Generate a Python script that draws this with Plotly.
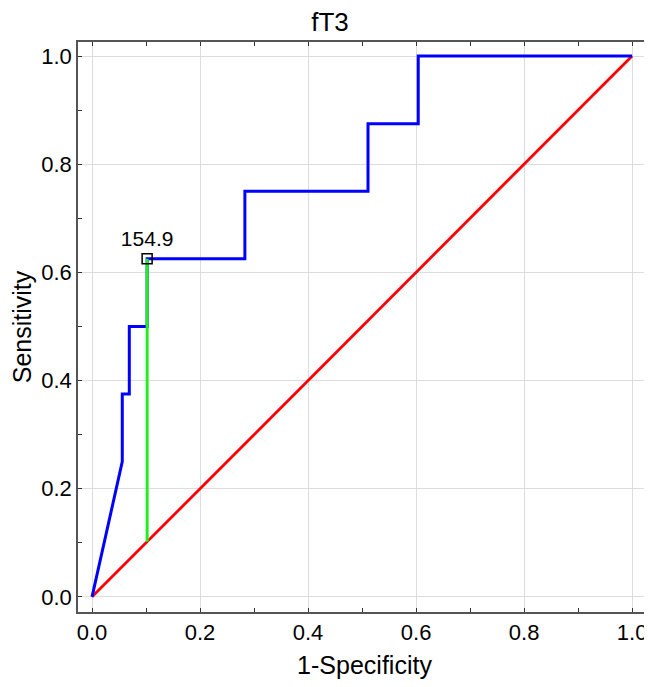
import plotly.graph_objects as go

# ROC curve for fT3
fpr = [0.0, 0.056, 0.056, 0.069, 0.069, 0.102, 0.102, 0.283, 0.283, 0.511, 0.511, 0.604, 0.604, 1.0]
tpr = [0.0, 0.25, 0.375, 0.375, 0.5, 0.5, 0.625, 0.625, 0.75, 0.75, 0.875, 0.875, 1.0, 1.0]

ref_x = [0.0, 1.0]
ref_y = [0.0, 1.0]

# cut-off point
cut_x = [0.102, 0.102]
cut_y = [0.102, 0.625]
cut_label = "154.9"

font = "Liberation Sans, Arial, sans-serif"

fig = go.Figure()
fig.add_trace(go.Scatter(x=ref_x, y=ref_y, mode="lines", line=dict(color="#ff0000", width=2.8)))
fig.add_trace(go.Scatter(x=fpr, y=tpr, mode="lines", line=dict(color="#0000ff", width=3)))
fig.add_trace(go.Scatter(x=cut_x, y=cut_y, mode="lines", line=dict(color="#22ee22", width=3)))
fig.add_trace(go.Scatter(x=[cut_x[1]], y=[cut_y[1]], mode="markers+text",
                         marker=dict(symbol="square-open", size=10, color="black", line=dict(width=1.5)),
                         text=[cut_label], textposition="top center",
                         textfont=dict(family=font, size=21, color="black")))

axis_common = dict(
    showline=True, linecolor="#555555", linewidth=1.5, mirror="allticks",
    ticks="inside", ticklen=4, tickcolor="#333333",
    showgrid=True, gridcolor="#dddddd", gridwidth=1,
    zeroline=False, dtick=0.2, tickformat=".1f", automargin=False,
    tickfont=dict(family=font, size=22, color="black"),
    minor=dict(ticks="inside", dtick=0.1, ticklen=4, tickcolor="#333333", showgrid=False),
)

# page body adds an 8px offset, so the figure is sized to the visible area
fig.update_layout(
    width=644, height=679,
    margin=dict(l=70, r=1, t=34, b=75),
    plot_bgcolor="white", paper_bgcolor="white",
    showlegend=False,
    title=dict(text="fT3", x=0.5, xanchor="center", y=0.98, yanchor="middle",
               font=dict(family=font, size=26, color="black")),
    xaxis=dict(range=[-0.026, 1.035], title=dict(text="1-Specificity", standoff=12,
               font=dict(family=font, size=25, color="black")), **axis_common),
    yaxis=dict(range=[-0.028, 1.026], title=dict(text="Sensitivity", standoff=8,
               font=dict(family=font, size=25, color="black")), **axis_common),
)

fig.write_html("out.html")
